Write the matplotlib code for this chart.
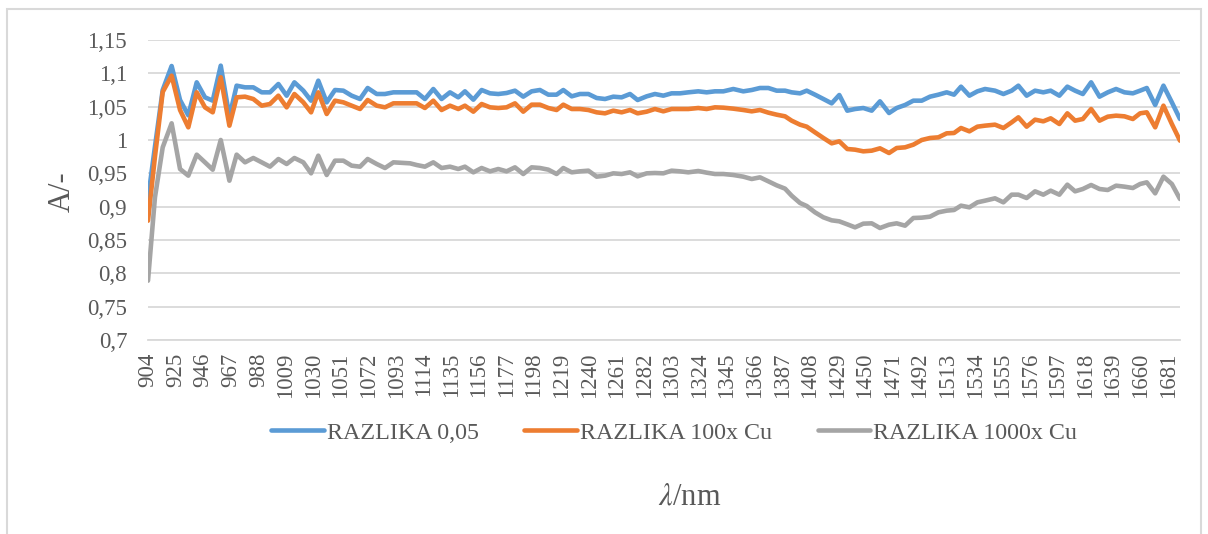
# Razlika absorbance spectra (NIR)

import matplotlib.pyplot as plt
from matplotlib.patches import Rectangle

# wavelengths [nm] at the line vertices
wavelength = [
    904.0, 909.3, 915.2, 922.0, 928.4, 934.7, 941.1, 947.4, 953.3, 959.4,
    966.0, 971.5, 977.9, 984.2, 990.6, 996.9, 1003.3, 1009.6, 1015.5, 1022.3,
    1028.2, 1033.7, 1040.1, 1046.4, 1052.8, 1059.1, 1065.5, 1071.3, 1078.2, 1084.5,
    1090.9, 1103.6,
    1108.6, 1114.9, 1121.3, 1127.6, 1134.0, 1140.3, 1145.4, 1151.8, 1158.1, 1164.5,
    1170.8, 1177.1, 1183.5, 1189.8, 1196.2, 1202.5, 1208.9, 1215.2, 1220.3, 1226.7,
    1233.0, 1239.4, 1245.7, 1252.1, 1258.4, 1264.7, 1271.1, 1276.9, 1283.8, 1290.1,
    1296.5, 1302.8, 1309.2, 1315.5,
    1323.1, 1329.5, 1335.8, 1342.2, 1349.8, 1357.4, 1363.8, 1370.1, 1376.5, 1382.8,
    1389.2, 1394.2, 1400.6, 1405.7, 1412.0, 1418.4, 1424.7, 1430.5, 1436.6, 1442.5,
    1448.8, 1455.2, 1461.5, 1468.4, 1474.2, 1480.6, 1486.9, 1493.3, 1499.6, 1506.0,
    1512.3, 1517.9, 1523.2, 1529.6, 1535.7, 1541.5,
    1549.1, 1555.5, 1561.8, 1566.9, 1573.2, 1579.6, 1585.9, 1591.5, 1598.1, 1604.2,
    1610.1, 1616.0, 1622.3, 1628.7, 1635.0, 1641.3, 1647.7, 1654.1, 1659.6, 1664.7,
    1671.1, 1677.4, 1683.8, 1690.0,
]

# RAZLIKA 0,05
razlika_005 = [
    0.912, 0.99, 1.075, 1.111, 1.06, 1.037, 1.0865, 1.064, 1.059, 1.1115,
    1.035, 1.0815, 1.079, 1.079, 1.0715, 1.0715, 1.084, 1.0665, 1.0865, 1.074,
    1.059, 1.089, 1.0565, 1.075, 1.074, 1.0665, 1.0615, 1.078, 1.069, 1.069,
    1.0715, 1.0715,
    1.0715, 1.0615, 1.0765, 1.0615, 1.0715, 1.064, 1.073, 1.0605, 1.075, 1.07,
    1.069, 1.0705, 1.074, 1.065, 1.073, 1.075, 1.068, 1.068, 1.075, 1.0655,
    1.069, 1.069, 1.063, 1.0615, 1.065, 1.064, 1.069, 1.06, 1.0655, 1.069,
    1.0665, 1.07, 1.07, 1.0715,
    1.073, 1.0715, 1.073, 1.073, 1.0765, 1.073, 1.075, 1.078, 1.078, 1.074,
    1.074, 1.0715, 1.07, 1.074, 1.068, 1.0615, 1.055, 1.0675, 1.044, 1.0465,
    1.048, 1.044, 1.058, 1.0405, 1.048, 1.0525, 1.059, 1.059, 1.065, 1.068,
    1.0715, 1.068, 1.08, 1.0665, 1.073, 1.0765,
    1.074, 1.069, 1.074, 1.0815, 1.0665, 1.074, 1.0715, 1.074, 1.0665, 1.08,
    1.074, 1.069, 1.0865, 1.065, 1.0715, 1.0765, 1.0715, 1.07, 1.074, 1.078,
    1.0525, 1.0815, 1.0565, 1.0315,
]

# RAZLIKA 100x Cu
razlika_100x = [
    0.879, 0.975, 1.072, 1.0965, 1.045, 1.019, 1.0715, 1.049, 1.0415, 1.094,
    1.0215, 1.064, 1.065, 1.0615, 1.0515, 1.054, 1.0665, 1.049, 1.069, 1.0565,
    1.0415, 1.0715, 1.039, 1.059, 1.0565, 1.0515, 1.0465, 1.06, 1.0515, 1.049,
    1.055, 1.055,
    1.055, 1.048, 1.059, 1.045, 1.0515, 1.0465, 1.0515, 1.0425, 1.054, 1.049,
    1.048, 1.049, 1.055, 1.0425, 1.053, 1.053, 1.048, 1.045, 1.053, 1.0465,
    1.0465, 1.045, 1.0415, 1.04, 1.044, 1.0415, 1.045, 1.04, 1.0425, 1.0465,
    1.043, 1.0465, 1.0465, 1.0465,
    1.048, 1.0465, 1.049, 1.0485, 1.047, 1.045, 1.043, 1.045, 1.041, 1.038,
    1.0355, 1.029, 1.023, 1.02, 1.0115, 1.003, 0.995, 0.998, 0.9865, 0.9855,
    0.983, 0.984, 0.9875, 0.9805, 0.988, 0.989, 0.993, 1.0, 1.003, 1.004,
    1.01, 1.0105, 1.018, 1.013, 1.02, 1.0215,
    1.023, 1.018, 1.0265, 1.034, 1.02, 1.0305, 1.028, 1.0325, 1.024, 1.04,
    1.029, 1.0315, 1.0465, 1.029, 1.035, 1.0365, 1.0355, 1.0315, 1.04, 1.0415,
    1.019, 1.0515, 1.024, 0.999,
]

# RAZLIKA 1000x Cu
razlika_1000x = [
    0.789, 0.914, 0.989, 1.025, 0.9565, 0.9465, 0.978, 0.9665, 0.9555, 1.0,
    0.939, 0.978, 0.9665, 0.973, 0.9665, 0.96, 0.9715, 0.964, 0.973, 0.9665,
    0.95, 0.9765, 0.9475, 0.969, 0.969, 0.9615, 0.96, 0.9715, 0.964, 0.958,
    0.9665, 0.965,
    0.9625, 0.96, 0.9665, 0.958, 0.96, 0.9565, 0.96, 0.9515, 0.958, 0.953,
    0.9565, 0.953, 0.959, 0.949, 0.959, 0.958, 0.9555, 0.949, 0.958, 0.9515,
    0.953, 0.954, 0.945, 0.9465, 0.95, 0.949, 0.9515, 0.9455, 0.95, 0.9505,
    0.95, 0.954, 0.953, 0.9515,
    0.9535, 0.951, 0.949, 0.949, 0.9475, 0.945, 0.9415, 0.944, 0.938, 0.932,
    0.927, 0.9165, 0.9055, 0.901, 0.8915, 0.884, 0.8795, 0.878, 0.8735, 0.869,
    0.8745, 0.875, 0.868, 0.873, 0.875, 0.8715, 0.883, 0.8835, 0.885, 0.8915,
    0.894, 0.895, 0.9015, 0.899, 0.9065, 0.909,
    0.9125, 0.9065, 0.918, 0.918, 0.913, 0.923, 0.918, 0.924, 0.918, 0.933,
    0.923, 0.9265, 0.9325, 0.9265, 0.925, 0.9315, 0.93, 0.928, 0.934, 0.9365,
    0.92, 0.945, 0.934, 0.9115,
]

series_names = ["RAZLIKA 0,05", "RAZLIKA 100x Cu", "RAZLIKA 1000x Cu"]
series_colors = ["#5B9BD5", "#ED7D31", "#A5A5A5"]

x_ticks = list(range(904, 1682, 21))
y_ticks = [0.7, 0.75, 0.8, 0.85, 0.9, 0.95, 1.0, 1.05, 1.1, 1.15]
y_tick_labels = ["0,7", "0,75", "0,8", "0,85", "0,9", "0,95", "1", "1,05", "1,1", "1,15"]

TEXT_COLOR = "#595959"
GRID_COLOR = "#D9D9D9"
W, H = 1208, 534


def main():
    plt.rcParams["font.family"] = ["Liberation Serif", "DejaVu Serif"]
    plt.rcParams["mathtext.fontset"] = "stix"

    fig = plt.figure(figsize=(W / 100, H / 100), dpi=100)
    ax = fig.add_axes([148 / W, 1 - 340 / H, (1180 - 148) / W, 300 / H])

    for values, name, color in zip([razlika_005, razlika_100x, razlika_1000x],
                                   series_names, series_colors):
        ax.plot(wavelength, values, color=color, linewidth=3.3, label=name,
                solid_joinstyle="round", solid_capstyle="round")

    ax.set_xlim(904, 1690)
    ax.set_ylim(0.7, 1.15)
    ax.set_xticks(x_ticks)
    ax.set_xticklabels([str(t) for t in x_ticks], rotation=90)
    ax.set_yticks(y_ticks)
    ax.set_yticklabels(y_tick_labels)
    ax.tick_params(axis="both", length=0, labelsize=16.5, labelcolor=TEXT_COLOR)
    ax.tick_params(axis="y", pad=15)
    ax.tick_params(axis="x", pad=9)
    ax.grid(axis="y", color=GRID_COLOR, linewidth=1.3)
    ax.set_axisbelow(True)
    for side in ["top", "right", "left"]:
        ax.spines[side].set_visible(False)
    ax.spines["bottom"].set_color(GRID_COLOR)
    ax.spines["bottom"].set_linewidth(1.3)

    # 軸ラベル
    fig.text(62 / W, 1 - 192 / H, "A/-", rotation=90, ha="center", va="center",
             fontsize=22, color=TEXT_COLOR)
    fig.text(690 / W, 1 - 497 / H, r"$\lambda$/nm", ha="center", va="center",
             fontsize=22, color=TEXT_COLOR)

    # 凡例
    fig.legend(loc="center", bbox_to_anchor=(674 / W, 1 - 433 / H), ncol=3,
               frameon=False, fontsize=17.3, labelcolor=TEXT_COLOR,
               handlelength=2.2, handletextpad=0.12, columnspacing=1.9)

    # 枠線
    fig.add_artist(Rectangle((7 / W, -0.05), (1201 - 7) / W, 1.05 - 9 / H,
                             transform=fig.transFigure, fill=False,
                             edgecolor=GRID_COLOR, linewidth=1.5))

    fig.savefig("out.png", dpi=100)


if __name__ == "__main__":
    main()
